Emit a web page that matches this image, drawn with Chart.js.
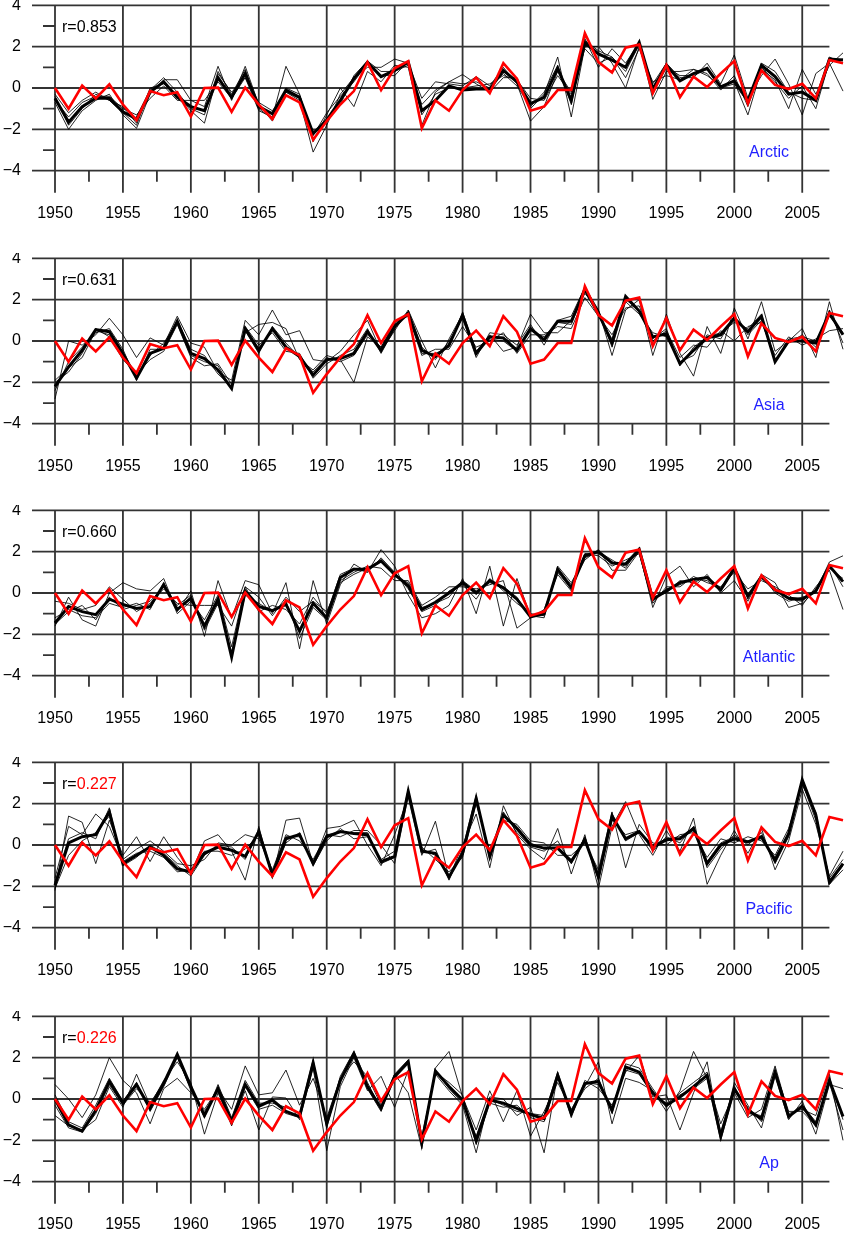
<!DOCTYPE html>
<html><head><meta charset="utf-8">
<script src="https://cdn.jsdelivr.net/npm/chart.js@4/dist/chart.umd.min.js"></script>
<style>
html,body{margin:0;padding:0;background:#fff;width:845px;height:1234px;overflow:hidden}
.p{position:absolute;left:0;width:845px;height:253px}
</style></head><body>
<div class="p" style="top:0px"><canvas id="c0" width="845" height="253"></canvas></div>
<div class="p" style="top:253px"><canvas id="c1" width="845" height="253"></canvas></div>
<div class="p" style="top:505px"><canvas id="c2" width="845" height="253"></canvas></div>
<div class="p" style="top:757px"><canvas id="c3" width="845" height="253"></canvas></div>
<div class="p" style="top:1011px"><canvas id="c4" width="845" height="253"></canvas></div>
<script>
const years = [1950,1951,1952,1953,1954,1955,1956,1957,1958,1959,
1960,1961,1962,1963,1964,1965,1966,1967,1968,1969,
1970,1971,1972,1973,1974,1975,1976,1977,1978,1979,
1980,1981,1982,1983,1984,1985,1986,1987,1988,1989,
1990,1991,1992,1993,1994,1995,1996,1997,1998,1999,
2000,2001,2002,2003,2004,2005,2006,2007,2008];

const xLabelYears = [1950,1955,1960,1965,1970,1975,1980,1985,1990,1995,2000,2005];
const xMinorYears = [1952.5,1957.5,1962.5,1967.5,1972.5,1977.5,1982.5,1987.5,1992.5,1997.5,2002.5];
const yLabelValues = [-4,-2,0,2,4];
const yMinorValues = [-3,-1,1,3];

// observed index (red), identical in every panel
const observed = [0,-1.0,0.12,-0.5,0.18,-0.8,-1.55,-0.15,-0.35,-0.2,
-1.38,0,0.02,-1.15,0.02,-0.8,-1.5,-0.35,-0.7,-2.5,
-1.6,-0.8,-0.15,1.25,-0.1,0.95,1.3,-1.95,-0.6,-1.1,
-0.1,0.5,-0.25,1.2,0.45,-1.1,-0.9,-0.1,-0.1,2.65,
1.25,0.75,1.95,2.1,-0.25,1.1,-0.45,0.55,0.05,0.7,
1.3,-0.75,0.85,0.15,-0.05,0.2,-0.5,1.35,1.2];

// Arctic
const arcticMean = [-0.5,-1.65,-0.9,-0.5,-0.5,-1.15,-1.5,-0.2,0.3,-0.45,
-0.9,-1.1,0.5,-0.45,0.7,-0.9,-1.25,-0.1,-0.45,-2.2,
-1.55,-0.6,0.45,1.25,0.55,0.85,1.25,-1.1,-0.6,0.1,
-0.1,-0.05,-0.05,0.85,0.3,-0.75,-0.45,0.95,-0.6,2.2,
1.65,1.35,1.0,2.2,-0.05,1.1,0.35,0.7,0.95,0.05,
0.35,-0.6,1.1,0.55,-0.3,-0.2,-0.6,1.4,1.35];
const arctic1 = [-0.7,-2.0,-1.1,-0.6,-0.3,-1.3,-1.95,-0.3,0.4,0.4,
-0.6,-0.9,1.05,-0.6,1.05,-0.8,-1.6,-0.2,-0.6,-3.1,
-1.8,-0.3,0.5,1.0,1.0,1.4,1.2,-0.5,0.3,0.2,
0.1,0.55,0.1,1.0,0.2,-1.6,-0.9,0.8,-0.2,2.4,
1.0,1.9,1.2,2.2,-0.55,0.8,0.8,0.9,0.6,0.1,
0.3,-1.3,0.9,0.4,-1.0,0.9,-0.3,1.1,1.7];
const arctic2 = [-0.3,-1.2,-0.6,-0.2,-0.6,-0.9,-1.7,0.0,0.2,-0.3,
-1.1,-1.7,0.7,-0.2,0.5,-1.1,-1.4,1.05,-0.3,-2.6,
-1.3,0.0,-0.9,0.8,0.3,1.1,1.0,-1.8,-0.2,0.3,
0.65,0.2,-0.2,0.5,0.5,-1.0,-0.3,1.5,-1.4,2.0,
2.0,1.2,0.0,2.0,0.2,1.2,0.5,0.5,1.2,0.2,
1.6,-0.5,0.6,1.4,0.2,-1.3,0.7,1.2,-0.15];
const arctic3 = [-0.6,-1.4,-0.7,-0.4,-0.4,-1.0,-1.3,-0.5,0.1,-0.6,
-0.6,-0.6,0.3,-0.5,0.5,-0.7,-1.1,-0.2,-0.5,-2.3,
-1.2,-0.4,0.3,1.2,0.6,0.6,1.3,-1.3,-0.3,0.0,
0.0,0.1,0.2,0.6,0.4,-0.5,-0.6,0.6,-0.3,1.9,
1.2,1.5,0.5,1.9,0.3,0.6,0.4,0.9,0.7,-0.1,
0.6,-0.9,1.0,0.3,-0.5,0.1,-1.0,1.3,1.4];
const arctic4 = [-0.4,-1.8,-1.0,-0.3,-0.6,-1.2,-1.8,-0.1,0.5,-0.2,
-1.0,-1.3,0.8,-0.3,0.9,-1.0,-1.5,0.0,-0.3,-2.5,
-1.5,-0.8,0.6,1.3,0.8,0.8,1.1,-0.8,-0.1,0.3,
0.2,0.3,0.0,0.7,0.1,-0.9,-0.2,1.1,-0.8,2.3,
1.8,1.5,0.8,2.1,-0.3,1.0,0.6,0.6,0.9,0.0,
0.2,-0.7,1.2,0.8,-0.2,-0.5,-0.6,1.5,1.2];

// Asia
const asiaMean = [-2.2,-1.25,-0.45,0.55,0.45,-0.6,-1.8,-0.6,-0.35,0.95,
-0.6,-0.85,-1.4,-2.3,0.6,-0.45,0.6,-0.3,-0.75,-1.65,
-0.9,-0.85,-0.6,0.45,-0.45,0.7,1.35,-0.45,-0.75,-0.2,
1.25,-0.6,0.2,0.15,-0.45,0.6,0.05,0.95,0.95,2.5,
1.35,-0.1,2.15,1.45,0.2,0.35,-1.1,-0.45,0.15,0.3,
1.1,0.45,1.2,-1.0,0.0,0.0,-0.1,1.35,0.3];
const asia1 = [-2.8,0.0,-0.2,0.3,1.1,0.3,-0.8,0.15,-0.2,1.2,
-0.1,-0.3,-1.5,-1.9,1.0,0.3,1.5,0.3,0.5,-0.9,
-1.0,-0.5,0.3,1.0,-0.5,0.5,1.5,0.0,-1.3,0.1,
1.3,-0.5,0.3,-0.5,-0.3,1.3,0.4,0.4,1.0,2.3,
1.5,-0.7,1.5,2.0,-0.7,1.3,-0.6,-1.7,0.7,-0.6,
1.6,0.1,1.9,-0.5,0.0,0.6,-0.8,1.9,-0.4];
const asia2 = [-2.0,-1.5,-0.6,0.6,0.2,-0.9,-1.6,-0.9,-0.5,0.8,
-0.8,-1.2,-1.1,-2.1,0.4,0.8,0.9,0.6,-0.9,-1.4,
-0.7,-0.9,-2.0,0.2,-0.3,0.9,1.2,-0.7,-0.4,-0.4,
0.7,-0.3,0.0,0.4,-0.6,0.3,0.3,0.7,0.6,2.1,
1.2,0.3,1.6,1.7,0.0,0.5,-0.8,-0.2,-0.3,0.5,
0.0,0.7,0.9,-0.7,0.2,-0.2,0.1,0.5,0.6];
const asia3 = [-2.4,-1.0,-0.3,0.4,0.6,-0.4,-1.9,-0.4,-0.4,1.0,
-0.4,-0.7,-1.6,-2.2,0.7,-0.2,0.4,-0.5,-0.6,-1.8,
-1.1,-0.7,-0.4,0.6,-0.6,0.6,1.4,-0.3,-0.9,0.0,
1.1,-0.8,0.4,0.3,-0.2,0.8,-0.2,1.0,1.2,2.6,
1.5,-0.3,1.9,1.3,0.4,0.2,-1.0,-0.7,0.3,0.1,
1.2,0.3,1.0,-0.9,-0.1,0.3,-0.3,1.5,-0.1];
const asia4 = [-1.9,-1.3,-0.8,0.5,0.3,-0.7,-1.7,-0.7,-0.1,0.9,
-0.7,-1.0,-1.2,-2.3,0.5,-0.6,0.7,-0.1,-0.8,-1.5,
-0.8,-1.0,-0.7,0.3,-0.3,0.8,1.3,-0.6,-0.6,-0.3,
1.4,-0.5,0.1,0.0,-0.5,0.5,0.2,0.9,0.8,2.4,
1.2,0.1,2.0,1.5,0.1,0.6,-1.2,-0.3,0.2,0.4,
0.9,0.6,1.3,-1.0,0.1,0.2,0.0,1.2,0.4];

// Atlantic
const atlanticMean = [-1.45,-0.65,-0.9,-1.05,-0.3,-0.55,-0.75,-0.65,0.4,-0.8,
-0.25,-1.6,-0.3,-3.1,0.1,-0.65,-0.85,-0.55,-1.85,-0.5,
-1.2,0.75,1.15,1.15,1.55,0.9,0.35,-0.8,-0.45,0.0,
0.5,0.0,0.6,0.25,-0.3,-1.15,-1.0,1.15,0.25,1.8,
2.0,1.45,1.4,2.1,-0.3,0.1,0.5,0.65,0.75,0.15,
1.2,-0.15,0.8,0.15,-0.25,-0.3,0.1,1.3,0.55];
const atlantic1 = [-1.6,-0.2,-1.3,-1.6,0.0,0.5,0.2,0.1,0.7,-0.9,
0.1,-2.1,0.6,-1.2,0.6,0.4,-1.0,0.5,-2.7,0.6,
-1.5,0.4,1.4,1.0,2.1,1.3,-0.1,-1.2,-1.0,-0.6,
0.7,-1.0,1.3,-1.6,0.7,-1.1,-1.2,1.2,0.4,1.6,
2.1,1.1,1.1,2.0,-0.7,0.8,1.3,0.3,0.9,0.0,
0.6,-0.4,0.9,0.5,-0.7,-0.5,0.1,1.5,1.8];
const atlantic2 = [-0.4,-0.5,-0.8,-0.6,0.3,-0.3,-0.9,-0.5,0.2,-0.5,
-0.6,-0.6,-0.6,-1.6,0.3,-0.2,-1.1,-0.2,-0.9,-0.4,
-0.9,0.6,1.0,1.3,1.2,0.6,0.6,-0.6,-0.2,0.3,
0.3,0.2,0.4,0.6,-1.7,-1.2,-0.8,0.9,0.1,1.9,
1.8,1.3,1.6,1.9,-0.5,0.3,0.3,0.8,0.5,0.3,
1.0,0.2,0.6,0.3,-0.1,-0.6,0.3,1.1,-0.8];
const atlantic3 = [-1.2,-0.8,-1.1,-1.2,-0.5,-0.7,-0.5,-0.8,0.5,-1.0,
-0.4,-1.3,-0.1,-2.6,0.3,-0.9,-0.6,-0.8,-1.5,-0.2,
-1.0,0.9,1.2,1.0,1.7,1.0,0.2,-0.9,-0.6,0.1,
0.4,-0.3,0.7,0.1,-0.5,-1.0,-1.1,1.3,0.5,1.7,
2.0,1.6,1.2,2.2,-0.2,0.0,0.6,0.5,0.8,0.2,
1.3,-0.3,0.9,0.0,-0.4,-0.2,0.0,1.4,0.3];
const atlantic4 = [-1.5,-0.9,-0.6,-1.3,-0.2,-0.8,-0.6,-0.4,0.3,-0.6,
-0.1,-1.8,-0.5,-2.9,-0.1,-0.5,-0.9,-0.4,-2.2,-0.7,
-1.3,0.5,0.9,1.2,1.6,0.8,0.5,-0.7,-0.5,-0.2,
0.6,0.1,0.5,0.3,-0.2,-1.2,-0.9,1.0,0.2,1.9,
1.9,1.5,1.3,2.0,-0.4,0.2,0.4,0.7,0.6,0.1,
1.1,-0.1,0.7,0.2,-0.3,-0.4,0.2,1.2,0.7];

// Pacific
const pacificMean = [-1.95,0.1,0.4,0.5,1.6,-0.9,-0.5,-0.1,-0.5,-1.15,
-1.3,-0.4,-0.1,-0.25,-0.55,0.65,-1.45,0.3,0.5,-0.9,
0.4,0.65,0.55,0.5,-0.8,-0.55,2.6,-0.3,-0.4,-1.55,
-0.4,2.25,-0.55,1.45,0.8,0.0,-0.15,-0.15,-0.8,0.25,
-1.55,1.4,0.3,0.65,-0.1,0.25,0.3,0.8,-0.9,0.0,
0.3,0.15,0.4,-0.75,0.55,3.15,1.45,-1.8,-0.9];
const pacific1 = [-2.2,1.4,1.1,-0.9,1.2,-0.5,0.4,-0.8,0.4,-0.6,
-1.4,0.2,0.5,-0.3,-1.7,0.9,-1.6,1.2,1.3,-0.9,
0.8,0.9,1.2,0.0,-1.0,0.5,2.3,-0.5,1.15,-1.6,
0.0,1.5,-1.1,1.9,0.5,-0.2,-0.7,0.8,-1.4,0.5,
-2.1,0.9,2.1,0.5,-0.5,0.7,-0.3,1.3,-1.9,-0.5,
0.7,-0.4,0.8,-1.2,0.2,2.7,1.0,-1.5,-0.3];
const pacific2 = [-1.6,0.9,0.5,1.5,0.9,-0.7,-0.2,0.2,-0.3,-0.9,
-1.0,-0.7,0.1,0.0,0.5,0.3,-1.2,0.5,0.2,-0.7,
0.5,0.4,0.7,0.7,0.0,-0.9,2.4,-0.1,-0.7,-1.3,
-0.6,2.0,-0.3,1.2,1.0,0.2,0.1,-0.5,-0.5,0.1,
-1.2,1.6,-1.1,1.0,0.1,0.0,0.5,0.6,-0.6,0.3,
0.1,0.4,0.2,-0.5,0.8,2.9,1.6,-1.9,-1.2];
const pacific3 = [-2.1,-0.5,0.2,0.6,1.4,-0.8,-0.4,-0.3,-0.6,-1.3,
-1.2,-0.3,-0.3,-0.5,-0.2,0.5,-1.5,0.1,0.6,-1.0,
0.2,0.8,0.3,0.4,-0.7,-0.3,2.7,-0.4,-0.2,-1.7,
-0.2,2.4,-0.7,1.6,0.6,-0.1,-0.3,0.2,-0.9,0.4,
-1.7,1.2,0.5,0.7,-0.3,0.4,0.1,0.9,-1.1,-0.2,
0.5,0.0,0.6,-0.9,0.4,3.0,1.2,-1.6,-0.7];
const pacific4 = [-1.8,0.3,0.6,0.3,1.8,-1.0,-0.6,0.0,-0.4,-1.0,
-1.5,-0.5,0.0,-0.1,-0.7,0.7,-1.3,0.4,0.4,-0.8,
0.5,0.6,0.6,0.6,-0.9,-0.6,2.5,-0.2,-0.5,-1.5,
-0.5,2.1,-0.4,1.4,0.9,0.1,-0.2,-0.1,-0.7,0.2,
-1.4,1.5,0.2,0.6,0.0,0.3,0.4,0.7,-0.8,0.1,
0.4,0.2,0.3,-0.6,0.6,3.2,1.5,-1.9,-1.0];

// Ap
const apMean = [0.0,-1.25,-1.55,-0.55,0.85,-0.2,0.7,-0.45,0.75,2.15,
0.6,-0.8,0.5,-1.1,0.7,-0.35,-0.05,-0.6,-0.85,1.75,
-1.2,0.9,2.2,0.6,-0.45,1.1,1.8,-2.1,1.35,0.6,
-0.05,-2.0,-0.05,-0.2,-0.45,-0.75,-0.95,1.15,-0.7,0.75,
0.85,-0.55,1.55,1.3,0.3,-0.3,0.1,0.6,1.15,-1.8,
0.5,-0.55,-0.95,1.3,-0.85,-0.35,-1.25,0.9,-0.85];
const ap1 = [0.7,0.0,-0.9,0.2,2.0,0.9,0.3,-1.2,0.5,1.0,
0.3,-0.5,0.5,-0.5,1.6,0.2,0.3,1.4,-0.3,1.0,
-0.9,1.0,1.8,1.1,-0.3,1.2,0.3,-2.4,1.5,2.3,
0.1,-1.5,0.4,-1.1,0.4,-1.8,-0.6,0.8,-0.5,0.6,
1.8,-1.2,1.0,0.8,0.4,-0.6,0.4,2.3,1.0,-1.2,
0.3,-0.9,-0.5,1.6,-0.7,-0.5,-0.8,1.2,-2.0];
const ap2 = [-0.8,-1.3,-1.5,-1.0,0.6,-0.4,1.2,-0.3,0.9,1.8,
0.8,-1.7,0.3,-1.2,0.4,-1.5,0.1,0.05,-1.0,1.5,
-2.5,0.6,2.0,0.4,1.1,-0.4,1.4,-1.8,1.2,0.4,
-0.3,-2.6,0.1,0.0,-0.8,-0.4,-2.6,1.2,-0.9,0.9,
0.5,-0.3,1.3,2.1,0.1,0.2,-1.5,0.3,1.8,-1.9,
0.8,-0.3,-1.4,1.1,-1.0,-0.1,-1.7,0.7,0.5];
const ap3 = [0.2,-1.1,-1.4,-0.3,1.0,-0.1,0.8,-0.6,0.6,2.0,
0.5,-0.9,0.7,-0.9,0.9,-0.2,-0.2,-0.4,-0.7,1.9,
-1.4,1.1,2.3,0.8,-0.5,1.0,1.7,-2.2,1.3,0.8,
0.2,-2.2,-0.2,-0.4,-0.3,-0.9,-1.1,1.0,-0.6,0.5,
1.0,-0.7,1.7,1.5,0.5,-0.4,0.3,0.8,1.3,-1.6,
0.6,-0.7,-0.8,1.4,-0.6,-0.6,-1.3,1.0,-1.0];
const ap4 = [-0.3,-1.4,-1.6,-0.7,0.7,-0.3,0.5,-0.2,0.8,2.1,
0.4,-0.6,0.4,-1.3,0.6,-0.5,-0.3,-0.7,-0.9,1.6,
-1.0,0.8,2.1,0.5,-0.6,1.2,1.9,-2.0,1.4,0.5,
-0.2,-1.8,0.0,-0.3,-0.6,-0.7,-0.8,1.3,-0.8,0.8,
0.7,-0.4,1.4,1.2,0.2,-0.2,0.2,0.5,1.0,-2.0,
0.4,-0.4,-1.1,1.2,-0.9,-0.3,-1.1,0.8,-1.5];

const regionNames = ['Arctic','Asia','Atlantic','Pacific','Ap'];
const correlations = ['0.853','0.631','0.660','0.227','0.226'];
const correlationLow = [false,false,false,true,true];
const regionMeans = [arcticMean, asiaMean, atlanticMean, pacificMean, apMean];
const regionMembers = [
  [arctic1, arctic2, arctic3, arctic4],
  [asia1, asia2, asia3, asia4],
  [atlantic1, atlantic2, atlantic3, atlantic4],
  [pacific1, pacific2, pacific3, pacific4],
  [ap1, ap2, ap3, ap4]
];

const FONT = "'Liberation Sans', Arial, Helvetica, sans-serif";
const GRID = '#333333';
const toXY = vals => vals.map((v,i)=>({x:years[i], y:v}));

function makePlugin(idx){
  return {
    id:'frame'+idx,
    beforeDatasetsDraw(chart){
      const {ctx, scales:{x,y}} = chart;
      ctx.save();
      ctx.strokeStyle = GRID;
      ctx.lineWidth = 1.8;
      ctx.beginPath();
      const xr = x.getPixelForValue(2007);
      yLabelValues.forEach(v=>{const py=y.getPixelForValue(v); ctx.moveTo(32,py); ctx.lineTo(xr,py);});
      yMinorValues.forEach(v=>{const py=y.getPixelForValue(v); ctx.moveTo(43,py); ctx.lineTo(x.left,py);});
      const top = y.getPixelForValue(4), bot = y.getPixelForValue(-4);
      xLabelYears.forEach(v=>{const px=x.getPixelForValue(v); ctx.moveTo(px,top); ctx.lineTo(px,bot+22);});
      xMinorYears.forEach(v=>{const px=x.getPixelForValue(v); ctx.moveTo(px,bot); ctx.lineTo(px,bot+11);});
      ctx.stroke();
      ctx.restore();
    },
    afterDraw(chart){
      const {ctx, scales:{y}} = chart;
      const zero = y.getPixelForValue(0);
      ctx.save();
      ctx.font = '16px ' + FONT;
      ctx.textBaseline = 'alphabetic';
      ctx.textAlign = 'left';
      ctx.fillStyle = '#000';
      ctx.fillText('r=', 62, zero - 56);
      const w = ctx.measureText('r=').width;
      ctx.fillStyle = correlationLow[idx] ? '#ff0000' : '#000';
      ctx.fillText(correlations[idx], 62 + w, zero - 56);
      ctx.fillStyle = '#1f1fff';
      ctx.textAlign = 'center';
      ctx.fillText(regionNames[idx], 769, zero + 69);
      ctx.restore();
    }
  };
}

regionNames.forEach((name, idx)=>{
  const datasets = [];
  datasets.push({label:'observed', data:toXY(observed), borderColor:'#ff0000', borderWidth:2.6});
  datasets.push({label:name+' mean', data:toXY(regionMeans[idx]), borderColor:'#000', borderWidth:3});
  regionMembers[idx].forEach((m,k)=>{
    datasets.push({label:name+' '+(k+1), data:toXY(m), borderColor:'rgba(0,0,0,0.85)', borderWidth:1});
  });
  datasets.forEach(d=>{d.pointRadius=0; d.tension=0; d.fill=false; d.clip=false;});
  new Chart(document.getElementById('c'+idx), {
    type:'line',
    data:{datasets},
    options:{
      responsive:false,
      animation:false,
      events:[],
      layout:{padding:{top:5.3, right:2, left:0, bottom:0}},
      plugins:{legend:{display:false}, tooltip:{enabled:false}},
      scales:{
        x:{
          type:'linear', min:1950, max:2008,
          grid:{display:false, drawTicks:false},
          border:{display:false},
          ticks:{font:{family:FONT, size:16}, color:'#000', padding:33, maxRotation:0, autoSkip:false,
                 callback:v=>String(v)},
          afterBuildTicks:s=>{s.ticks = xLabelYears.map(v=>({value:v}));},
          afterFit:s=>{s.height = 82.3; s.paddingLeft = 0; s.paddingRight = 0;}
        },
        y:{
          min:-4, max:4,
          grid:{display:false, drawTicks:false},
          border:{display:false},
          ticks:{font:{family:FONT, size:16}, color:'#000', padding:34,
                 callback:v=> v<0 ? '\u2212'+(-v) : String(v)},
          afterBuildTicks:s=>{s.ticks = yLabelValues.map(v=>({value:v}));},
          afterFit:s=>{s.width = 55; s.paddingTop = 0; s.paddingBottom = 0;}
        }
      }
    },
    plugins:[makePlugin(idx)]
  });
});
</script>
</body></html>
